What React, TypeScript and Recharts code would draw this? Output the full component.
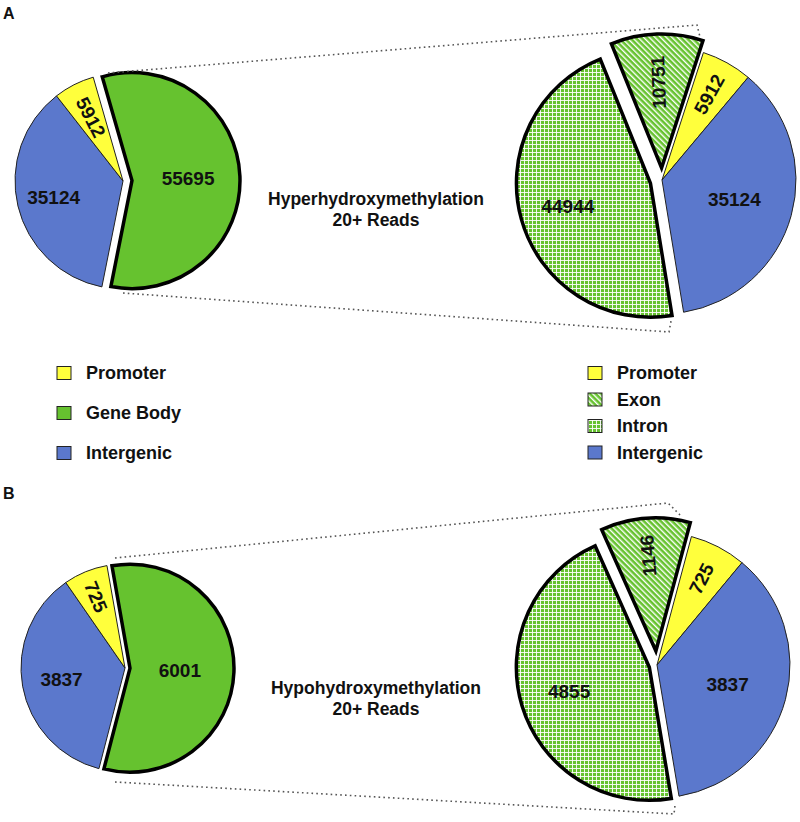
import React from "react";
import { PieChart, Pie, Cell } from "recharts";

// ---- data ------------------------------------------------------------------
const OVERVIEW_CATS = ["Gene Body", "Intergenic", "Promoter"];
const DETAIL_CATS = ["Promoter", "Intergenic", "Intron", "Exon"];

const HYPER_OVERVIEW = [55695, 35124, 5912];
const HYPER_DETAIL = [5912, 35124, 44944, 10751];
const HYPO_OVERVIEW = [6001, 3837, 725];
const HYPO_DETAIL = [725, 3837, 4855, 1146];

const LEFT_LEGEND = ["Promoter", "Gene Body", "Intergenic"];
const RIGHT_LEGEND = ["Promoter", "Exon", "Intron", "Intergenic"];
const PANEL_LETTERS = ["A", "B"];
const PANEL_TITLES = ["Hyperhydroxymethylation", "Hypohydroxymethylation"];
const SUBTITLE = "20+ Reads";

// ---- styles ----------------------------------------------------------------
const FONT = "'Liberation Sans', Arial, Helvetica, sans-serif";
const GREEN = "#66c22f";
const FILL: Record<string, string> = {
  Promoter: "#ffff3c",
  Intergenic: "#5b78cc",
  "Gene Body": GREEN,
  Exon: "url(#exonHatch)",
  Intron: "url(#intronGrid)",
};
const LEGEND_FILL: Record<string, string> = {
  ...FILL,
  Exon: "url(#legExon)",
  Intron: "url(#legIntron)",
};

const RAD = Math.PI / 180;

interface PieGeo {
  cx: number;
  cy: number;
  r: number;
  start: number;
  explode: Record<string, number>;
  rotate: Record<string, "in" | "out">;
  labelR: Record<string, number>;
}

const GEO_A_LEFT: PieGeo = {
  cx: 123, cy: 181, r: 108, start: 106,
  explode: { "Gene Body": 9 },
  rotate: { Promoter: "in" },
  labelR: { Promoter: 0.66, Intergenic: 0.66, "Gene Body": 0.52 },
};
const GEO_A_RIGHT: PieGeo = {
  cx: 662, cy: 180, r: 134, start: 72,
  explode: { Exon: 12, Intron: 12 },
  rotate: { Exon: "out", Promoter: "out" },
  labelR: { Exon: 0.64, Promoter: 0.73, Intron: 0.64, Intergenic: 0.56 },
};
const GEO_B_LEFT: PieGeo = {
  cx: 125, cy: 668, r: 104, start: 100,
  explode: { "Gene Body": 5 },
  rotate: { Promoter: "in" },
  labelR: { Promoter: 0.74, Intergenic: 0.62, "Gene Body": 0.48 },
};
const GEO_B_RIGHT: PieGeo = {
  cx: 657, cy: 665, r: 133, start: 75,
  explode: { Exon: 14, Intron: 8 },
  rotate: { Exon: "out", Promoter: "out" },
  labelR: { Exon: 0.72, Promoter: 0.73, Intron: 0.63, Intergenic: 0.55 },
};

// dotted connectors between the overview and the detail pie
const CONNECTORS = [
  "108,73 697,25 700,37",
  "123,293 669,332 671,321",
  "115,558 668,503 680,515",
  "115,782 674,814 675,805",
];

// ---- helpers ---------------------------------------------------------------
function makeLabel(visible: string[], geo: PieGeo) {
  return (p: any) => {
    const name = p.name ?? p.payload?.name;
    if (!visible.includes(name)) return null;
    const mid = p.midAngle;
    const R = p.outerRadius * (geo.labelR[name] ?? 0.6);
    const x = p.cx + R * Math.cos(-mid * RAD);
    const y = p.cy + R * Math.sin(-mid * RAD);
    const mode = geo.rotate[name];
    const rot = mode === "in" ? 180 - mid : mode === "out" ? -mid : 0;
    return (
      <text
        key={`lbl-${name}`}
        x={x}
        y={y}
        transform={`rotate(${rot} ${x} ${y})`}
        textAnchor="middle"
        dominantBaseline="central"
        fill="#111"
        fontFamily={FONT}
        fontWeight="bold"
        fontSize={19}
      >
        {p.value}
      </text>
    );
  };
}

function pieLayers(id: string, cats: string[], values: number[], geo: PieGeo) {
  const data = cats.map((c, i) => ({ name: c, value: values[i] }));
  const total = values.reduce((a, b) => a + b, 0);
  const exploded = cats.filter((c) => geo.explode[c]);
  const groups = [cats.filter((c) => !geo.explode[c]), ...exploded.map((c) => [c])];

  // mid angle of each slice, clockwise from the start angle
  let acc = 0;
  const mid: Record<string, number> = {};
  cats.forEach((c, i) => {
    mid[c] = geo.start - ((acc + values[i] / 2) / total) * 360;
    acc += values[i];
  });

  return groups.map((g, gi) => {
    const isExp = gi > 0;
    const d = isExp ? geo.explode[g[0]] : 0;
    const a = isExp ? mid[g[0]] * RAD : 0;
    return (
      <Pie
        key={`${id}-${gi}`}
        data={data}
        dataKey="value"
        nameKey="name"
        cx={geo.cx + d * Math.cos(a)}
        cy={geo.cy - d * Math.sin(a)}
        outerRadius={geo.r}
        startAngle={geo.start}
        endAngle={geo.start - 360}
        isAnimationActive={false}
        labelLine={false}
        label={makeLabel(g, geo)}
      >
        {data.map((e) => {
          const on = g.includes(e.name);
          return (
            <Cell
              key={e.name}
              fill={on ? FILL[e.name] : "none"}
              stroke={on ? (isExp ? "#000" : "#222") : "none"}
              strokeWidth={isExp ? 3.5 : 1}
            />
          );
        })}
      </Pie>
    );
  });
}

function Patterns({ exon, intron }: { exon: string; intron: string }) {
  return (
    <>
      <pattern id={exon} width={4} height={4} patternUnits="userSpaceOnUse" patternTransform="rotate(-45)">
        <rect width={4} height={4} fill={GREEN} />
        <rect width={1.4} height={4} fill="#fff" />
      </pattern>
      <pattern id={intron} width={4} height={4} patternUnits="userSpaceOnUse">
        <rect width={4} height={4} fill={GREEN} />
        <rect width={4} height={0.9} fill="#fff" />
        <rect width={0.9} height={4} fill="#fff" />
      </pattern>
    </>
  );
}

function Legend({ items, x, rows }: { items: string[]; x: number; rows: number[] }) {
  return (
    <g>
      {items.map((it, i) => (
        <g key={it}>
          <rect x={x} y={rows[i] - 6.5} width={14} height={13} fill={LEGEND_FILL[it]} stroke="#222" strokeWidth={1} />
          <text x={x + 29} y={rows[i]} dominantBaseline="central" fontFamily={FONT} fontWeight="bold" fontSize={18} fill="#111">
            {it}
          </text>
        </g>
      ))}
    </g>
  );
}

export default function App() {
  const titleY = [205, 694];
  const letterY = [19, 499];
  return (
    <div style={{ position: "absolute", left: 0, top: 0, width: 800, height: 822, background: "#fff" }}>
      <div style={{ position: "absolute", left: 0, top: 0 }}>
        <PieChart width={800} height={822} margin={{ top: 0, right: 0, bottom: 0, left: 0 }}>
          <defs>
            <Patterns exon="exonHatch" intron="intronGrid" />
          </defs>
          {pieLayers("al", OVERVIEW_CATS, HYPER_OVERVIEW, GEO_A_LEFT)}
          {pieLayers("ar", DETAIL_CATS, HYPER_DETAIL, GEO_A_RIGHT)}
          {pieLayers("bl", OVERVIEW_CATS, HYPO_OVERVIEW, GEO_B_LEFT)}
          {pieLayers("br", DETAIL_CATS, HYPO_DETAIL, GEO_B_RIGHT)}
        </PieChart>
      </div>
      <svg width={800} height={822} style={{ position: "absolute", left: 0, top: 0, pointerEvents: "none" }}>
        <defs>
          <Patterns exon="legExon" intron="legIntron" />
        </defs>
        {CONNECTORS.map((pts, i) => (
          <polyline key={i} points={pts} fill="none" stroke="#555" strokeWidth={1.6} strokeDasharray="1.6 3.2" />
        ))}
        {PANEL_LETTERS.map((l, i) => (
          <text key={l} x={3} y={letterY[i]} fontFamily={FONT} fontWeight="bold" fontSize={16} fill="#111">
            {l}
          </text>
        ))}
        {PANEL_TITLES.map((t, i) => (
          <text key={t} x={376} y={titleY[i]} textAnchor="middle" fontFamily={FONT} fontWeight="bold" fontSize={17.5} fill="#111">
            <tspan x={376}>{t}</tspan>
            <tspan x={376} dy={21}>{SUBTITLE}</tspan>
          </text>
        ))}
        <Legend items={LEFT_LEGEND} x={57} rows={[373, 413, 453]} />
        <Legend items={RIGHT_LEGEND} x={588} rows={[373, 399.5, 426, 452.5]} />
      </svg>
    </div>
  );
}
